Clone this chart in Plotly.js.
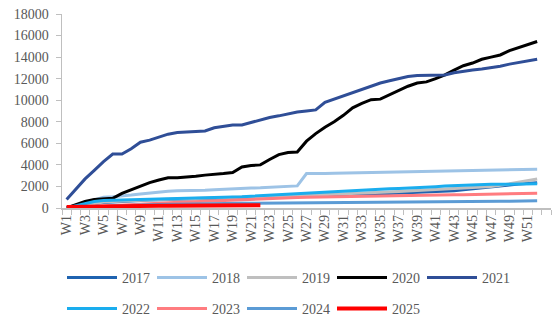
<!DOCTYPE html>
<html>
<head>
<meta charset="utf-8">
<script src="https://cdn.plot.ly/plotly-3.0.1.min.js"></script>
<style>html,body{margin:0;padding:0;background:#fff;}#chart{width:558px;height:324px;}</style>
</head>
<body>
<div id="chart"></div>
<script>
// Categories: weeks W1..W52
const weeks = ["W1","W2","W3","W4","W5","W6","W7","W8","W9","W10","W11","W12","W13","W14","W15","W16","W17","W18","W19","W20","W21","W22","W23","W24","W25","W26","W27","W28","W29","W30","W31","W32","W33","W34","W35","W36","W37","W38","W39","W40","W41","W42","W43","W44","W45","W46","W47","W48","W49","W50","W51","W52"];

const y2017 = [0,150,300,420,520,580,620,660,700,740,760,780,800,820,840,860,880,900,920,940,960,980,1000,1020,1040,1060,1080,1100,1130,1160,1190,1220,1250,1280,1310,1340,1370,1400,1430,1460,1490,1520,1600,1700,1800,1900,1980,2060,2140,2220,2290,2350];
const y2018 = [0,250,500,800,1000,1050,1100,1200,1300,1400,1500,1550,1600,1600,1600,1650,1700,1750,1800,1820,1850,1870,1900,1930,1980,2050,3200,3180,3200,3220,3240,3260,3280,3300,3320,3340,3360,3380,3400,3410,3420,3430,3440,3450,3460,3480,3500,3520,3540,3560,3580,3600];
const y2019 = [0,150,300,450,550,600,650,700,750,780,800,820,840,860,880,900,920,940,960,980,1000,1030,1060,1090,1120,1150,1180,1210,1240,1270,1300,1340,1380,1420,1460,1500,1540,1580,1620,1660,1700,1750,1800,1850,1900,1950,2000,2100,2250,2450,2600,2700];
const y2020 = [0,300,600,800,850,900,1350,1700,2000,2350,2600,2800,2800,2850,2950,3050,3100,3200,3300,3800,3950,4000,4500,4950,5150,5200,6200,6900,7500,8000,8600,9300,9700,10050,10100,10500,10900,11300,11600,11700,12000,12350,12800,13200,13450,13800,14000,14200,14600,14900,15200,15450];
const y2021 = [800,1800,2700,3500,4300,5000,5000,5500,6100,6300,6600,6850,7000,7050,7050,7150,7450,7550,7700,7700,7950,8150,8400,8550,8750,8900,9000,9100,9800,10100,10400,10700,10950,11300,11600,11800,12000,12200,12300,12300,12300,12350,12550,12700,12800,12900,13000,13150,13350,13500,13650,13800];
const y2022 = [0,200,400,600,700,720,740,760,780,800,820,840,860,880,900,920,950,980,1000,1050,1100,1150,1200,1250,1300,1350,1400,1450,1500,1550,1600,1650,1700,1720,1750,1780,1810,1840,1880,1930,1980,2030,2070,2110,2140,2170,2200,2200,2210,2220,2230,2240];
const y2023 = [0,50,100,150,200,240,280,320,360,400,440,480,520,560,600,640,680,720,760,800,830,860,890,920,950,970,990,1000,1010,1020,1030,1040,1050,1060,1070,1080,1100,1120,1140,1160,1180,1200,1220,1240,1260,1280,1290,1300,1310,1320,1340,1360];
const y2024 = [0,40,80,120,150,180,210,240,270,300,320,340,360,380,400,410,420,430,435,440,445,450,455,460,462,465,468,470,473,476,479,482,485,488,490,495,500,505,510,515,520,530,540,555,570,585,600,615,630,645,665,680];
const y2025 = [100,120,140,160,170,180,190,200,200,210,210,220,220,230,230,240,240,240,250,250,250,250];

const seriesNames = ["2017","2018","2019","2020","2021","2022","2023","2024","2025"];
const seriesData = [y2017,y2018,y2019,y2020,y2021,y2022,y2023,y2024,y2025];
const seriesColors = ["#1F63B0","#9DC3E6","#BFBFBF","#000000","#2F4E97","#1AADEE","#FF7C80","#5B9BD5","#FF0000"];
const seriesWidths = [3,3,3,3,3,3,3,3,4];

const xIdx = weeks.map((w,i)=>i+1);
const tickLabels = weeks.filter((w,i)=>i%2===0);
const tickPos = xIdx.filter((v,i)=>i%2===0);

const traces = seriesNames.map((n,k)=>({
  type:'scatter', mode:'lines', name:n,
  x: xIdx.slice(0, seriesData[k].length),
  y: seriesData[k],
  line:{color:seriesColors[k], width:seriesWidths[k]},
  legend: k<5 ? 'legend' : 'legend2',
  hoverinfo:'skip'
}));

const fnt = {family:'"Liberation Serif", "Times New Roman", serif', size:14, color:'#595959'};
const legendBase = {orientation:'h', xref:'container', yref:'container', xanchor:'left', yanchor:'middle',
  entrywidth:25, entrywidthmode:'pixels', itemwidth:50, font:fnt, bgcolor:'rgba(0,0,0,0)', traceorder:'normal'};

const layout = {
  width:558, height:324,
  margin:{l:62, r:7, t:14, b:116},
  paper_bgcolor:'#fff', plot_bgcolor:'#fff',
  font:fnt,
  showlegend:true,
  xaxis:{
    type:'linear', range:[0.5,53.5],
    tickmode:'array', tickvals:tickPos, ticktext:tickLabels, tickangle:-90,
    ticks:'', showgrid:false, zeroline:false,
    showline:true, linecolor:'#BFBFBF', linewidth:1.5,
    minor:{tick0:0.5, dtick:1, ticks:'outside', ticklen:5, tickcolor:'#BFBFBF', tickwidth:1, showgrid:false},
    tickfont:fnt, fixedrange:true
  },
  yaxis:{
    range:[0,18000], dtick:2000, tick0:0, tickformat:'d',
    ticks:'outside', ticklen:5, tickcolor:'#BFBFBF', tickwidth:1,
    showgrid:false, zeroline:false,
    showline:true, linecolor:'#BFBFBF', linewidth:1.5,
    tickfont:fnt, ticklabelstandoff:4, fixedrange:true
  },
  legend: Object.assign({}, legendBase, {x:62/558, y:1-278/324}),
  legend2: Object.assign({}, legendBase, {x:62/558, y:1-309/324})
};

Plotly.newPlot('chart', traces, layout, {displayModeBar:false, staticPlot:true});
</script>
</body>
</html>
